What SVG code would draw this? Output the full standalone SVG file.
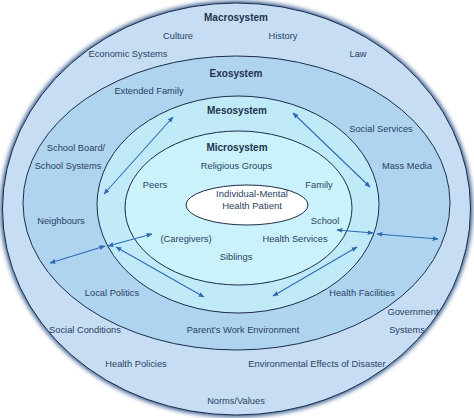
<svg xmlns="http://www.w3.org/2000/svg" width="474" height="418" viewBox="0 0 474 418">
<defs>
<style>
text{font-family:"Liberation Sans",Arial,sans-serif;font-size:9.3px;fill:#2b4263;text-anchor:middle}
.t{font-weight:bold;font-size:10px;fill:#1f3350}
.ring{stroke:#1c2d4a;stroke-width:1}
.arr{stroke:#2e6bb3;stroke-width:1.1;fill:none;marker-start:url(#ah);marker-end:url(#ah)}
</style>
<marker id="ah" viewBox="0 0 10 10" refX="9" refY="5" markerWidth="6" markerHeight="6" orient="auto-start-reverse" markerUnits="userSpaceOnUse">
<path d="M0,1 L10,5 L0,9 Z" fill="#2e6bb3"/>
</marker>
<filter id="blur" x="-5%" y="-5%" width="110%" height="110%"><feGaussianBlur stdDeviation="2"/></filter>
</defs>
<rect width="474" height="418" fill="#ffffff"/>
<g id="macrosystem">
<ellipse cx="236.5" cy="209" rx="236" ry="208" fill="#3b5f92" filter="url(#blur)"/>
<ellipse class="ring" cx="236.5" cy="209" rx="234" ry="206" fill="#c6ddf4"/>
<text class="t" x="236" y="21">Macrosystem</text>
<text x="178" y="39">Culture</text>
<text x="283" y="39">History</text>
<text x="128" y="57">Economic Systems</text>
<text x="358" y="57">Law</text>
<text x="85" y="333">Social Conditions</text>
<text x="413" y="315">Government</text>
<text x="407" y="333">Systems</text>
<text x="136" y="367">Health Policies</text>
<text x="317" y="367">Environmental Effects of Disaster</text>
<text x="236" y="404">Norms/Values</text>
</g>
<g id="exosystem">
<ellipse class="ring" cx="236.5" cy="203" rx="213.5" ry="147" fill="#aed4ef"/>
<text class="t" x="236" y="77">Exosystem</text>
<text x="149" y="94">Extended Family</text>
<text x="381" y="132">Social Services</text>
<text x="76" y="151">School Board/</text>
<text x="68" y="169">School Systems</text>
<text x="407" y="169">Mass Media</text>
<text x="61" y="224">Neighbours</text>
<text x="112" y="296">Local Politics</text>
<text x="362" y="296">Health Facilities</text>
<text x="243" y="333">Parent's Work Environment</text>
</g>
<g id="mesosystem">
<ellipse class="ring" cx="238" cy="204.5" rx="141" ry="108.5" fill="#c1eaf8"/>
<text class="t" x="237" y="114">Mesosystem</text>
</g>
<g id="microsystem">
<ellipse class="ring" cx="238.5" cy="208" rx="113.5" ry="77" fill="#caf2fa"/>
<text class="t" x="237" y="151">Microsystem</text>
<text x="236.5" y="169">Religious Groups</text>
<text x="155" y="188">Peers</text>
<text x="319" y="188">Family</text>
<text x="325" y="224">School</text>
<text x="186" y="242">(Caregivers)</text>
<text x="295" y="242">Health Services</text>
<text x="236" y="260">Siblings</text>
</g>
<g id="individual">
<ellipse class="ring" cx="247" cy="205" rx="61" ry="20" fill="#ffffff"/>
<text x="252" y="197" style="font-size:9.5px">Individual-Mental</text>
<text x="252" y="209" style="font-size:9.5px">Health Patient</text>
</g>
<g id="connectors">
<line class="arr" x1="104" y1="194" x2="173" y2="117"/>
<line class="arr" x1="293" y1="113" x2="370" y2="187"/>
<line class="arr" x1="50" y1="263" x2="105" y2="246"/>
<line class="arr" x1="108" y1="246" x2="152" y2="234"/>
<line class="arr" x1="116" y1="247" x2="204" y2="297"/>
<line class="arr" x1="357" y1="247" x2="273" y2="296"/>
<line class="arr" x1="337" y1="230" x2="373" y2="233"/>
<line class="arr" x1="377" y1="234" x2="438" y2="239"/>
</g>
</svg>
